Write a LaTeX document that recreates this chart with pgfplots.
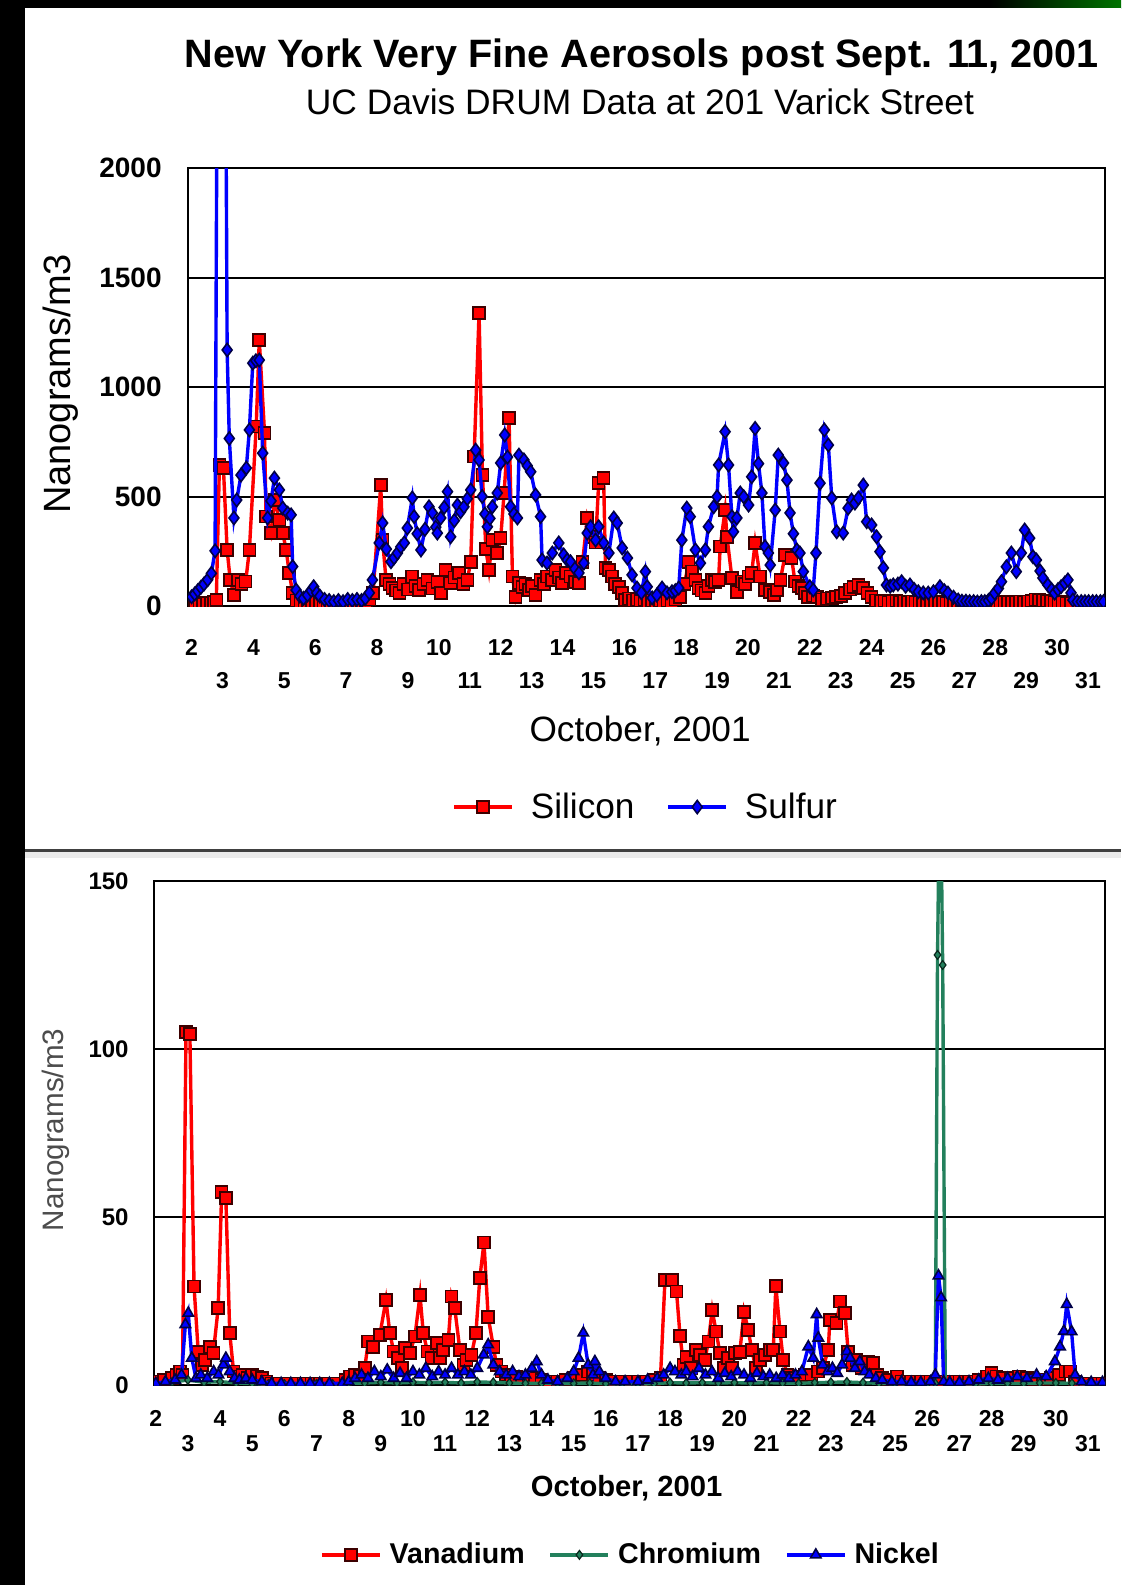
\documentclass[border=0pt]{standalone}
\usepackage{pgfplots}
\pgfplotsset{compat=1.18}
\usepackage{fontspec}
\setmainfont{Liberation Sans}

\definecolor{siRed}{RGB}{255,0,0}
\definecolor{siEdge}{RGB}{60,0,0}
\definecolor{sBlue}{RGB}{0,0,255}
\definecolor{sEdge}{RGB}{0,0,70}
\definecolor{crGreen}{RGB}{35,128,92}

\newcommand\loA[1]{\raisebox{-16.5pt}{#1}}
\newcommand\loB[1]{\raisebox{-12.5pt}{#1}}

\pgfplotsset{
  legline/.style={legend image code/.code={%
    \draw[mark repeat=2,mark phase=2,##1] plot coordinates {(0pt,0pt) (14.5pt,0pt) (29pt,0pt)};}},
}

\begin{document}
\begin{tikzpicture}
% page and panels (1 px = 0.5pt)
\useasboundingbox (0,0) rectangle (560.5pt,-792.5pt);
\fill[black] (0,0) rectangle (560.5pt,-792.5pt);
\shade[left color=black,right color=green!45!black] (495pt,0pt) rectangle (560.5pt,-4pt);
\fill[white] (12.5pt,-4pt) rectangle (560.5pt,-424.5pt);
\fill[black!75] (12.5pt,-424.5pt) rectangle (560.5pt,-426pt);
\fill[black!8] (12.5pt,-426pt) rectangle (560.5pt,-429pt);
\fill[white] (12.5pt,-429pt) rectangle (560.5pt,-792.5pt);

\node[anchor=base,font=\bfseries\fontsize{19.8}{24}\selectfont] at (321pt,-33.5pt)
  {New York Very Fine Aerosols post Sept. 11, 2001};
\node[anchor=base,font=\fontsize{17.7}{21}\selectfont] at (320pt,-57.3pt)
  {UC Davis DRUM Data at 201 Varick Street};

% ---------------- top chart ----------------
\begin{axis}[
  at={(94pt,-84pt)}, anchor=north west,
  scale only axis, width=458.5pt, height=219pt,
  xmin=1.884, xmax=31.55, ymin=0, ymax=2000,
  axis line style={black,line width=1pt},
  ymajorgrids, grid style={black,line width=1pt},
  tick style={draw=none},
  ytick={0,500,1000,1500,2000},
  yticklabels={0,500,1000,1500,2000},
  yticklabel style={font=\bfseries\fontsize{14}{14}\selectfont,anchor=east,inner sep=0pt,xshift=-13pt},
  xtick={2,...,31},
  xticklabels={2,\loA{3},4,\loA{5},6,\loA{7},8,\loA{9},10,\loA{11},12,\loA{13},14,\loA{15},16,\loA{17},18,\loA{19},20,\loA{21},22,\loA{23},24,\loA{25},26,\loA{27},28,\loA{29},30,\loA{31}},
  xticklabel style={font=\bfseries\fontsize{11.5}{12}\selectfont,anchor=base,inner sep=0pt,yshift=-24.5pt},
  xlabel={October, 2001},
  xlabel style={at={(axis description cs:0.493,-0.285)},anchor=center,font=\fontsize{17.6}{18}\selectfont},
  ylabel={Nanograms/m3},
  ylabel style={at={(axis description cs:-0.1385,0.507)},anchor=center,font=\fontsize{19}{20}\selectfont},
  legline, legend columns=-1,
  legend style={at={(axis description cs:0.498,-0.459)},anchor=center,draw=none,fill=none,
    font=\fontsize{17.6}{18}\selectfont, nodes={inner sep=0pt},
    /tikz/every odd column/.append style={column sep=8.5pt},
    /tikz/every even column/.append style={column sep=16pt}},
  clip marker paths=true,
]
\addplot[siRed,line width=1.7pt,mark=square*,mark size=3pt,
  mark options={fill=siRed,draw=siEdge,line width=0.8pt,solid}] coordinates {
(2.00,15)(2.12,12)(2.25,15)(2.37,10)(2.50,12)(2.62,15)(2.72,18)(2.80,27)
(2.90,644)(3.03,630)(3.15,256)(3.25,119)(3.37,50)(3.50,119)(3.62,100)(3.75,111)
(3.87,256)(4.09,819)(4.19,1215)(4.36,790)(4.41,408)(4.57,333)(4.68,484)(4.84,393)
(4.95,333)(5.06,256)(5.16,151)(5.27,59)(5.40,25)(5.52,18)(5.65,15)(5.77,20)
(5.90,15)(6.02,18)(6.15,12)(6.27,15)(6.40,10)(6.52,12)(6.65,10)(6.77,12)
(6.90,10)(7.02,12)(7.15,10)(7.27,12)(7.40,15)(7.52,12)(7.65,18)(7.75,30)
(7.87,59)(8.12,552)(8.18,301)(8.29,119)(8.40,100)(8.50,82)(8.61,70)(8.72,59)
(8.85,100)(9.00,75)(9.14,134)(9.25,90)(9.36,73)(9.50,100)(9.63,119)(9.80,80)
(9.95,110)(10.06,59)(10.22,164)(10.38,105)(10.50,130)(10.65,151)(10.80,100)(10.92,119)
(11.03,202)(11.14,682)(11.30,1338)(11.41,598)(11.52,260)(11.62,164)(11.73,301)(11.89,242)
(12.00,310)(12.11,516)(12.27,858)(12.38,134)(12.48,42)(12.59,105)(12.70,88)(12.80,100)
(12.91,73)(13.02,90)(13.13,50)(13.29,119)(13.40,100)(13.50,134)(13.65,120)(13.77,164)
(13.88,130)(13.98,105)(14.12,150)(14.26,134)(14.40,110)(14.53,105)(14.65,200)(14.80,402)
(14.96,316)(15.07,290)(15.17,561)(15.33,584)(15.39,174)(15.50,164)(15.60,134)(15.70,100)
(15.82,88)(15.92,60)(16.03,27)(16.15,35)(16.28,25)(16.40,30)(16.52,22)(16.65,30)
(16.77,20)(16.90,25)(17.02,20)(17.15,22)(17.27,18)(17.40,25)(17.52,20)(17.65,30)
(17.80,40)(17.95,100)(18.08,202)(18.19,157)(18.30,120)(18.40,82)(18.50,70)(18.62,59)
(18.72,90)(18.83,119)(18.94,110)(19.05,119)(19.10,271)(19.26,438)(19.32,316)(19.48,128)
(19.64,65)(19.80,111)(19.91,100)(20.02,134)(20.12,150)(20.23,288)(20.39,134)(20.55,73)
(20.72,65)(20.85,50)(20.93,73)(21.05,120)(21.20,233)(21.41,219)(21.52,111)(21.63,90)
(21.74,82)(21.85,59)(21.95,42)(22.10,45)(22.25,40)(22.40,30)(22.55,35)(22.71,37)
(22.85,40)(23.00,45)(23.14,59)(23.30,75)(23.41,88)(23.57,96)(23.73,82)(23.87,60)
(24.00,42)(24.15,25)(24.30,20)(24.42,22)(24.55,18)(24.67,20)(24.80,22)(24.92,18)
(25.05,20)(25.17,18)(25.30,20)(25.42,17)(25.55,18)(25.67,20)(25.80,16)(25.92,18)
(26.05,20)(26.17,17)(26.30,18)(26.42,15)(26.55,17)(26.67,15)(26.80,16)(26.92,14)
(27.05,15)(27.17,14)(27.30,16)(27.42,15)(27.55,14)(27.67,16)(27.80,15)(27.92,17)
(28.05,16)(28.17,18)(28.30,17)(28.42,18)(28.55,16)(28.67,18)(28.80,20)(28.92,18)
(29.05,20)(29.17,22)(29.30,30)(29.42,28)(29.55,25)(29.67,22)(29.80,20)(29.92,18)
(30.05,20)(30.17,18)(30.30,15)(30.45,12)
};
\addlegendentry{Silicon}
\addplot[sBlue,line width=1.7pt,mark=diamond*,mark size=3.3pt,
  mark options={fill=sBlue,draw=sEdge,line width=0.8pt,solid}] coordinates {
(2.00,42)(2.10,55)(2.20,70)(2.30,85)(2.40,100)(2.52,120)(2.64,149)(2.76,252)
(2.90,5000)(3.02,5000)(3.15,1169)(3.22,765)(3.37,402)(3.46,484)(3.60,598)(3.77,630)
(3.87,804)(3.98,1109)(4.08,1120)(4.19,1123)(4.30,698)(4.46,402)(4.57,480)(4.68,584)
(4.84,530)(4.95,447)(5.11,424)(5.22,416)(5.27,180)(5.38,73)(5.50,45)(5.62,35)
(5.75,50)(5.87,70)(5.95,88)(6.05,60)(6.15,45)(6.30,30)(6.45,25)(6.60,20)
(6.75,25)(6.90,20)(7.05,30)(7.20,25)(7.35,30)(7.50,25)(7.62,35)(7.75,60)
(7.85,119)(8.07,288)(8.18,379)(8.30,260)(8.45,202)(8.55,220)(8.66,242)(8.77,270)
(8.88,288)(8.98,356)(9.14,493)(9.20,408)(9.30,330)(9.42,256)(9.55,350)(9.68,453)
(9.79,425)(9.90,360)(9.95,333)(10.06,402)(10.17,450)(10.28,522)(10.38,316)(10.50,390)
(10.60,461)(10.70,430)(10.81,453)(10.92,490)(11.03,530)(11.19,712)(11.30,667)(11.40,500)
(11.49,420)(11.57,362)(11.65,400)(11.73,453)(11.89,516)(12.00,653)(12.13,781)(12.22,680)
(12.32,453)(12.43,420)(12.54,402)(12.59,689)(12.75,667)(12.86,640)(12.97,613)(13.13,507)
(13.29,408)(13.34,210)(13.50,196)(13.67,242)(13.88,288)(14.04,233)(14.15,210)(14.26,202)
(14.40,170)(14.53,151)(14.69,196)(14.80,333)(14.91,362)(15.07,301)(15.17,362)(15.33,288)
(15.50,242)(15.66,402)(15.77,379)(15.93,265)(16.10,219)(16.25,142)(16.41,82)(16.55,60)
(16.68,157)(16.74,88)(16.90,37)(17.05,50)(17.22,82)(17.38,60)(17.54,65)(17.65,70)
(17.76,82)(17.86,301)(18.02,447)(18.13,408)(18.30,256)(18.46,196)(18.62,256)(18.72,362)
(18.89,453)(19.00,499)(19.05,644)(19.26,796)(19.37,644)(19.48,408)(19.53,339)(19.64,402)
(19.75,516)(19.86,499)(20.02,461)(20.12,590)(20.23,811)(20.34,650)(20.45,516)(20.55,271)
(20.66,242)(20.72,187)(20.88,438)(20.98,689)(21.15,653)(21.26,575)(21.36,425)(21.47,330)
(21.58,256)(21.68,242)(21.79,157)(22.00,88)(22.11,73)(22.20,242)(22.33,561)(22.47,804)
(22.60,735)(22.71,493)(22.87,339)(23.08,333)(23.24,447)(23.35,484)(23.46,470)(23.57,493)
(23.73,552)(23.84,385)(24.00,370)(24.16,316)(24.27,248)(24.38,174)(24.48,96)(24.60,90)
(24.70,96)(24.85,100)(24.97,111)(25.10,90)(25.24,96)(25.38,75)(25.51,65)(25.67,60)
(25.83,59)(26.00,65)(26.21,88)(26.35,70)(26.47,59)(26.65,40)(26.80,27)(26.92,22)
(27.05,22)(27.17,20)(27.30,20)(27.42,18)(27.55,20)(27.66,20)(27.78,25)(27.88,35)
(27.98,59)(28.10,80)(28.20,111)(28.36,179)(28.52,242)(28.68,157)(28.84,242)(28.95,347)
(29.11,310)(29.22,225)(29.33,210)(29.45,160)(29.54,128)(29.70,96)(29.82,75)(29.92,59)
(30.03,75)(30.13,88)(30.25,105)(30.35,119)(30.45,60)(30.51,27)(30.65,20)(30.78,20)
(30.90,20)(31.02,20)(31.15,20)(31.27,20)(31.40,20)(31.50,20)
};
\addlegendentry{Sulfur}
\end{axis}

% ---------------- bottom chart ----------------
\begin{axis}[
  at={(77pt,-440.5pt)}, anchor=north west,
  scale only axis, width=475.5pt, height=252pt,
  xmin=1.944, xmax=31.53, ymin=0, ymax=150,
  axis line style={black,line width=1pt},
  ymajorgrids, grid style={black,line width=1pt},
  tick style={draw=none},
  ytick={0,50,100,150},
  yticklabels={0,50,100,150},
  yticklabel style={font=\bfseries\fontsize{12}{12}\selectfont,anchor=east,inner sep=0pt,xshift=-12.5pt},
  xtick={2,...,31},
  xticklabels={2,\loB{3},4,\loB{5},6,\loB{7},8,\loB{9},10,\loB{11},12,\loB{13},14,\loB{15},16,\loB{17},18,\loB{19},20,\loB{21},22,\loB{23},24,\loB{25},26,\loB{27},28,\loB{29},30,\loB{31}},
  xticklabel style={font=\bfseries\fontsize{11.5}{12}\selectfont,anchor=base,inner sep=0pt,yshift=-20.5pt},
  xlabel={October, 2001},
  xlabel style={at={(axis description cs:0.497,-0.204)},anchor=center,font=\bfseries\fontsize{14.6}{15}\selectfont},
  ylabel={Nanograms/m3},
  ylabel style={at={(axis description cs:-0.1035,0.506)},anchor=center,text=black!70,font=\fontsize{14.8}{15}\selectfont},
  legline, legend columns=-1,
  legend style={at={(axis description cs:0.5,-0.337)},anchor=center,draw=none,fill=none,
    font=\bfseries\fontsize{14.3}{15}\selectfont, nodes={inner sep=0pt},
    /tikz/every odd column/.append style={column sep=4pt},
    /tikz/every even column/.append style={column sep=12pt}},
  clip marker paths=true,
]
\addplot[siRed,line width=1.7pt,mark=square*,mark size=3pt,
  mark options={fill=siRed,draw=siEdge,line width=0.8pt,solid}] coordinates {
(2.00,1)(2.25,1.5)(2.50,2)(2.65,3)(2.75,4)(2.83,3)(2.94,105)(3.06,104.5)
(3.19,29.3)(3.32,9.9)(3.43,6)(3.53,7.4)(3.68,11.4)(3.79,9.5)(3.94,22.9)(4.05,57.5)
(4.18,55.6)(4.30,15.5)(4.42,4)(4.55,2.5)(4.70,3)(4.85,2)(5.00,3)(5.15,2.5)
(5.30,2)(5.45,1)(5.60,0.5)(5.85,0.5)(6.10,0.5)(6.35,0.5)(6.60,0.5)(6.85,0.5)
(7.10,0.5)(7.35,0.5)(7.60,0.5)(7.90,1.5)(8.05,2.5)(8.20,3)(8.35,2.5)(8.50,5)
(8.61,12.9)(8.76,11.4)(8.97,14.9)(9.16,25.3)(9.28,15.5)(9.40,10)(9.54,8)(9.65,5)
(9.75,11)(9.90,9.5)(10.06,14.4)(10.22,26.8)(10.32,15.5)(10.45,10)(10.58,8)(10.74,12.5)
(10.84,8)(10.94,10.4)(11.10,13.4)(11.20,26.3)(11.30,22.9)(11.46,10.4)(11.57,6)(11.67,7.4)
(11.82,8.9)(11.96,15.5)(12.08,31.8)(12.21,42.4)(12.34,20.3)(12.50,11.4)(12.60,6)(12.75,4)
(12.90,3)(13.05,2)(13.20,2.5)(13.40,2)(13.60,1.5)(13.80,2)(14.00,1.5)(14.25,1)
(14.50,1)(14.75,1.5)(15.00,2)(15.25,3)(15.45,4)(15.60,3)(15.80,2)(16.00,1.5)
(16.25,1)(16.50,1)(16.75,1)(17.00,1)(17.25,1)(17.50,1.5)(17.70,2)(17.84,31.2)
(18.05,31.2)(18.20,27.8)(18.31,14.6)(18.42,6)(18.51,8.4)(18.65,5)(18.80,10.4)(18.93,8.9)
(19.08,7.4)(19.19,12.9)(19.31,22.3)(19.43,15.9)(19.55,9.5)(19.68,5)(19.81,8)(19.92,5)
(20.02,9.5)(20.17,9.9)(20.30,21.8)(20.43,16.4)(20.54,10.4)(20.67,5)(20.80,7.4)(20.95,8.9)
(21.11,10.4)(21.21,10.4)(21.29,29.5)(21.42,15.9)(21.52,7.4)(21.65,3)(21.80,2)(22.00,2.5)
(22.20,3)(22.40,3)(22.60,4)(22.75,5)(22.92,10.4)(22.97,19.3)(23.18,18.4)(23.28,24.8)
(23.44,21.5)(23.54,9.9)(23.67,6)(23.80,7.4)(23.95,5)(24.05,6)(24.16,6.9)(24.32,6.5)
(24.45,3)(24.60,2)(24.80,1.5)(25.05,2.5)(25.20,1)(25.50,1)(25.80,1)(26.10,1)
(26.40,1)(26.70,1)(27.00,1)(27.30,1)(27.60,1.5)(27.85,2.5)(28.00,3.5)(28.15,2.5)
(28.35,2)(28.60,2)(28.85,2.5)(29.10,2)(29.35,1.5)(29.60,1.5)(29.85,2)(30.10,3)
(30.30,4)(30.45,4)(30.60,1)(30.90,0.5)(31.20,0.5)(31.45,0.5)
};
\addlegendentry{Vanadium}
\addplot[crGreen,line width=1.7pt,mark=diamond*,mark size=2.2pt,
  mark options={fill=crGreen,draw=black!70!crGreen,line width=0.6pt,solid}] coordinates {
(2.0,0.5)(2.5,0.8)(3.0,1.5)(3.5,0.8)(4.0,1.0)(4.5,0.6)(5.0,0.4)(5.5,0.3)
(6.0,0.3)(6.5,0.3)(7.0,0.3)(7.5,0.3)(8.0,0.5)(8.5,0.6)(9.0,0.8)(9.5,0.6)
(10.0,0.8)(10.5,0.7)(11.0,0.8)(11.5,0.6)(12.0,0.9)(12.5,0.8)(13.0,0.6)(13.5,0.5)
(14.0,0.5)(14.5,0.4)(15.0,0.5)(15.5,0.6)(16.0,0.4)(16.5,0.3)(17.0,0.3)(17.5,0.4)
(18.0,0.7)(18.5,0.6)(19.0,0.7)(19.5,0.6)(20.0,0.7)(20.5,0.6)(21.0,0.7)(21.5,0.6)
(22.0,0.5)(22.5,0.7)(23.0,0.8)(23.5,0.9)(24.0,0.7)(24.5,0.5)(25.0,0.4)(25.5,0.3)
(26.0,0.3)(26.25,0.5)(26.32,128)(26.40,190)(26.48,125)(26.56,0.5)(27.0,0.3)(27.5,0.3)
(28.0,0.5)(28.5,0.5)(29.0,0.5)(29.5,0.6)(30.0,0.6)(30.5,0.5)(31.0,0.3)(31.5,0.3)
};
\addlegendentry{Chromium}
\addplot[sBlue,line width=1.7pt,mark=triangle*,mark size=3pt,
  mark options={fill=sBlue,draw=sEdge,line width=0.8pt,solid}] coordinates {
(2.00,0.5)(2.30,1)(2.60,1.5)(2.80,3)(2.92,18)(3.01,21.4)(3.12,8)(3.25,2)
(3.40,3)(3.60,2)(3.80,4)(3.95,3)(4.10,6)(4.18,8)(4.30,4)(4.45,2)
(4.60,1.5)(4.80,2)(5.00,1.5)(5.30,1)(5.60,0.5)(5.90,0.5)(6.20,0.5)(6.50,0.5)
(6.80,0.5)(7.10,0.5)(7.40,0.5)(7.80,0.5)(8.00,1)(8.20,2)(8.40,3)(8.60,2)
(8.80,4)(9.00,2.5)(9.20,4.5)(9.40,2)(9.60,3.5)(9.80,2)(10.00,4)(10.20,3)
(10.40,5)(10.60,2.5)(10.80,4)(11.00,3)(11.20,5)(11.40,3)(11.60,4)(11.80,3)
(12.00,5)(12.20,9)(12.34,12)(12.50,6)(12.70,4)(12.90,3)(13.10,4)(13.30,2.5)
(13.50,3)(13.70,5)(13.85,7)(14.00,3)(14.20,1.5)(14.50,1)(14.80,2)(15.00,4)
(15.15,8)(15.30,15.5)(15.45,6)(15.60,3)(15.66,7)(15.80,4)(16.00,2)(16.30,1)
(16.60,1)(17.00,1)(17.30,1.5)(17.60,2)(17.80,3)(18.00,5)(18.15,4)(18.35,3)
(18.50,4)(18.70,2.5)(18.90,5)(19.10,3)(19.30,4)(19.50,2)(19.70,3.5)(19.90,2.5)
(20.10,4)(20.30,3)(20.50,2)(20.70,3.5)(20.90,2.5)(21.10,3)(21.30,2)(21.50,3)
(21.70,2)(21.90,3)(22.10,4)(22.30,11.4)(22.45,8)(22.56,21)(22.61,14)(22.75,6)
(22.90,4)(23.05,5)(23.20,3.5)(23.35,6)(23.50,10)(23.60,8)(23.75,5)(23.90,7)
(24.05,4)(24.20,3)(24.40,2)(24.60,1.5)(24.90,1)(25.20,1)(25.50,0.8)(25.80,0.8)
(26.10,1)(26.25,3)(26.35,32.5)(26.43,26)(26.51,1)(26.70,0.8)(27.00,0.8)(27.30,1)
(27.60,1.5)(27.90,2)(28.20,1.5)(28.50,2)(28.80,2.5)(29.10,2)(29.40,3)(29.70,2.5)
(29.97,7)(30.13,11.4)(30.25,16)(30.34,24)(30.49,15.9)(30.60,3)(30.80,1)(31.10,0.8)
(31.45,0.8)
};
\addlegendentry{Nickel}
\end{axis}
\end{tikzpicture}
\end{document}
